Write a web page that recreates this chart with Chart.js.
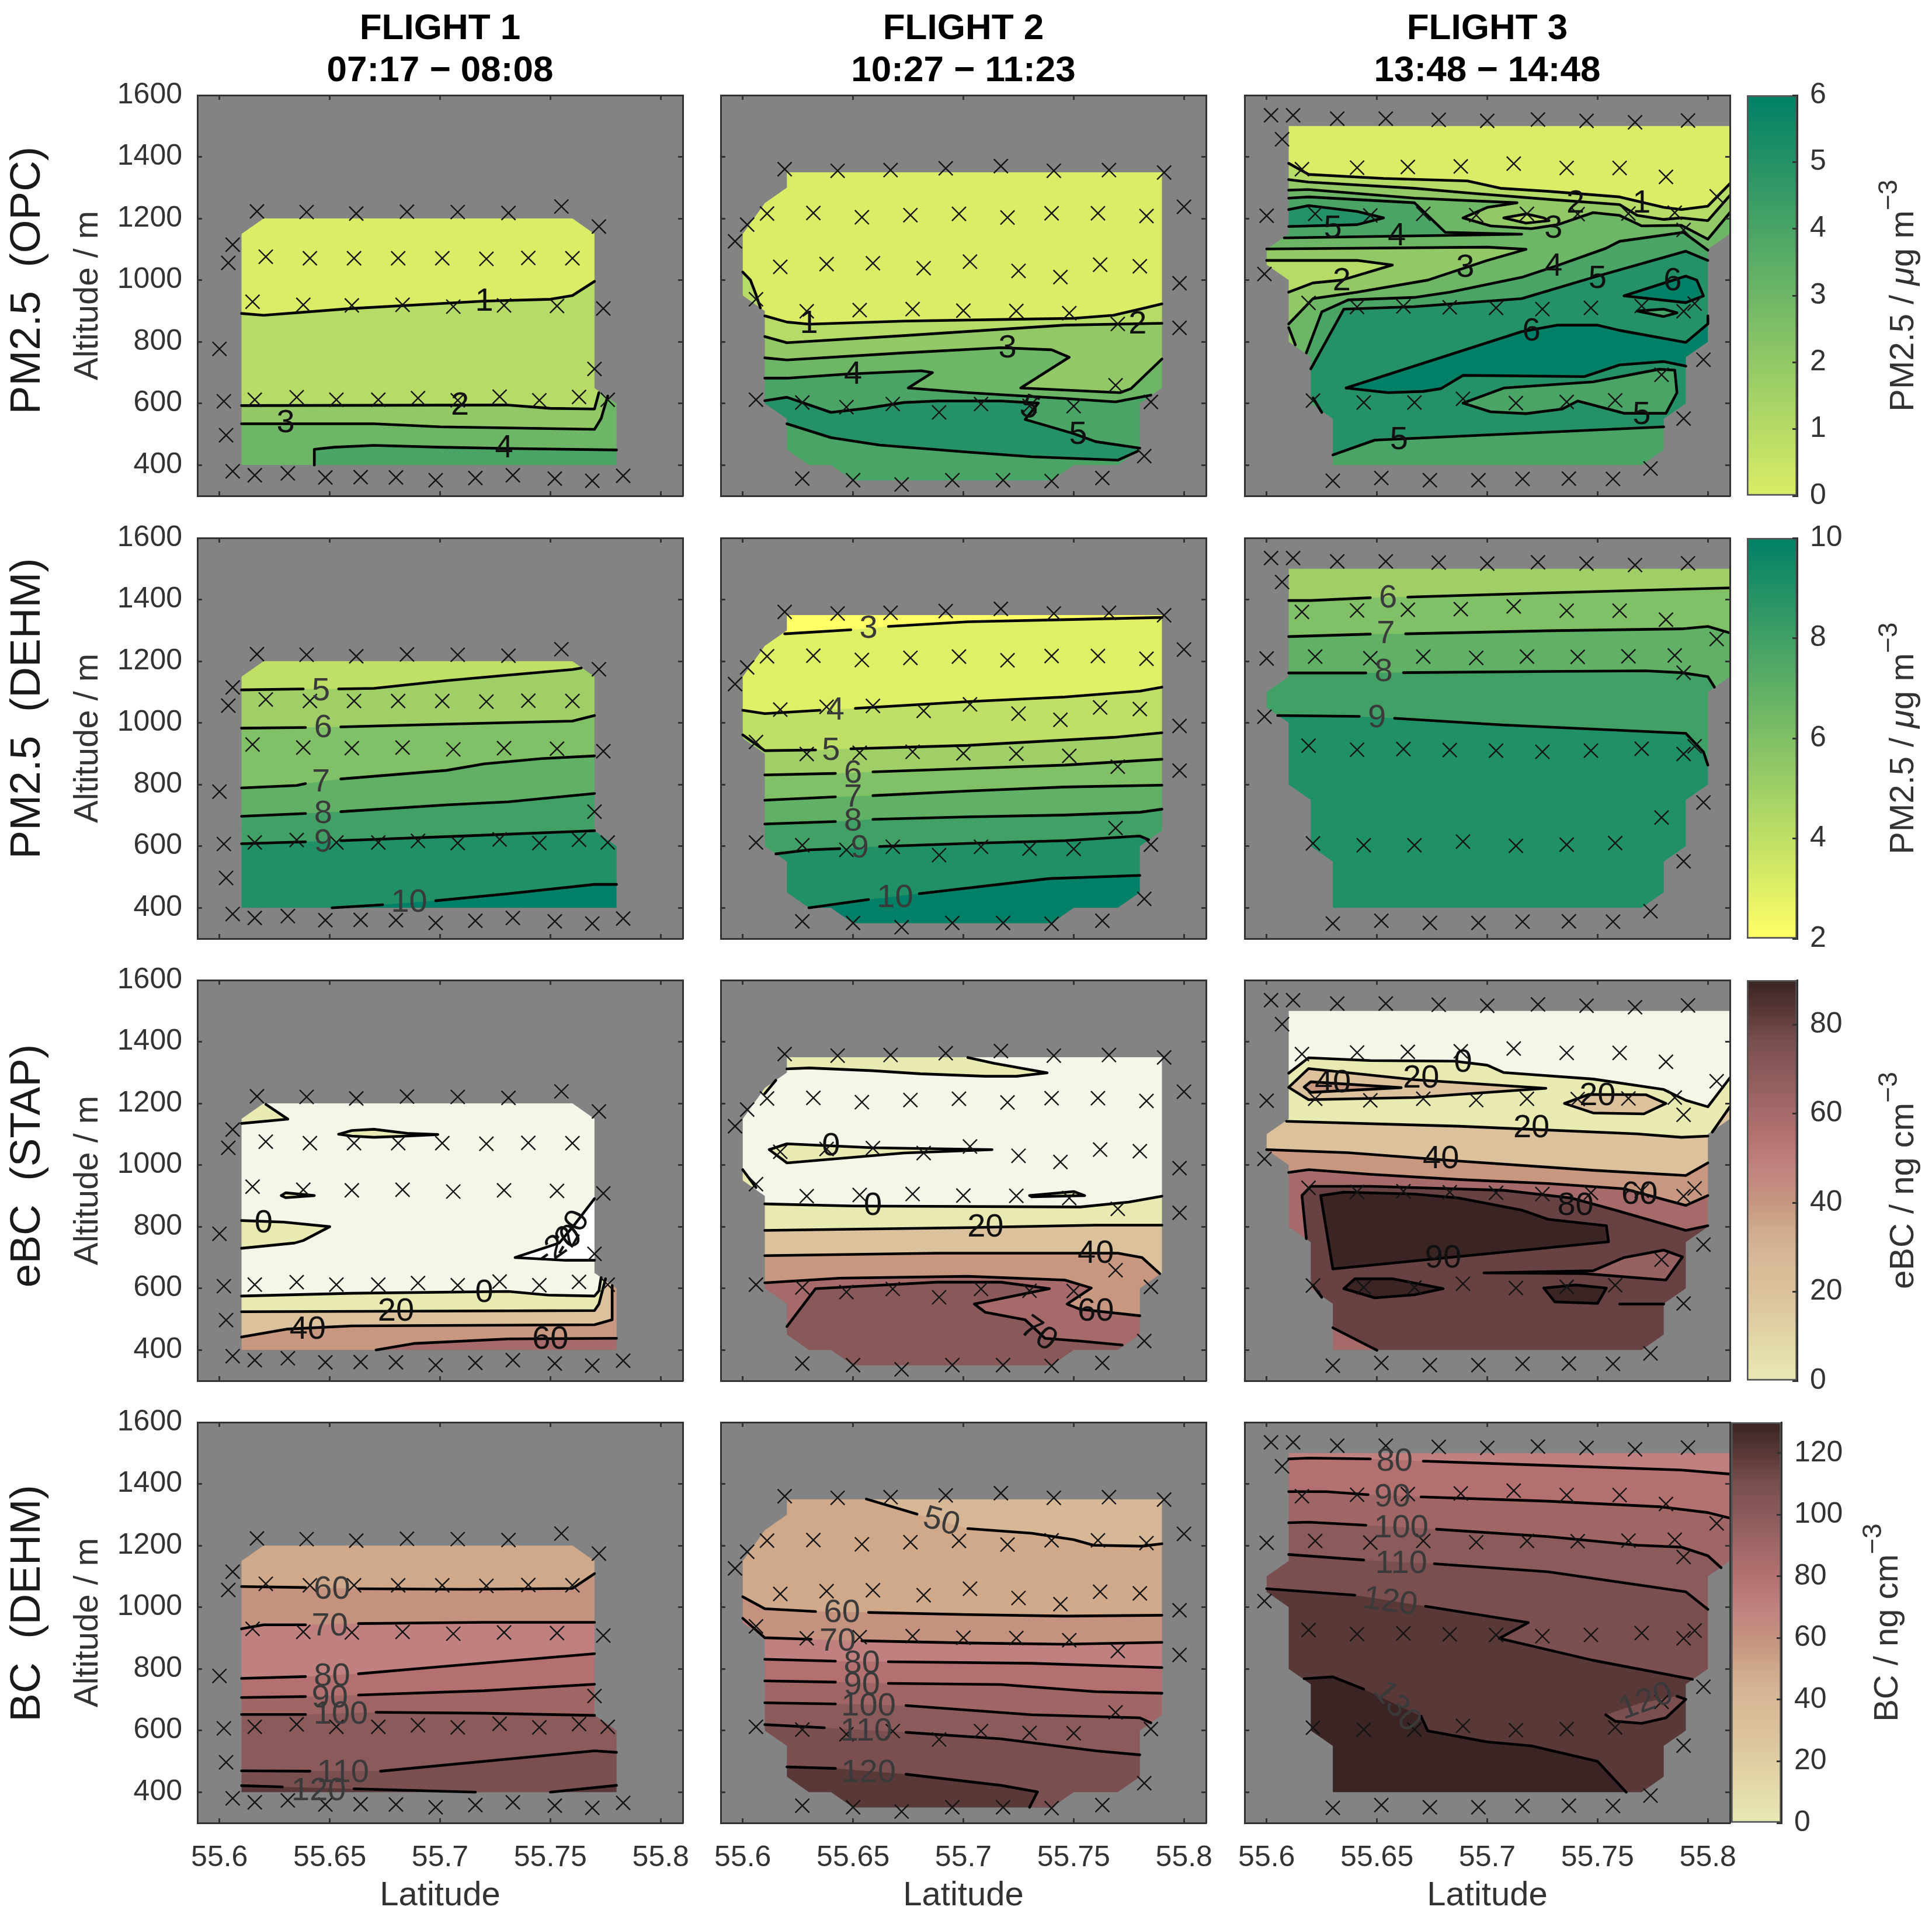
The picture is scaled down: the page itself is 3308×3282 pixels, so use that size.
<!DOCTYPE html>
<html>
<head>
<meta charset="utf-8">
<title>Flights</title>
<script src="https://cdn.jsdelivr.net/npm/chart.js@4/dist/chart.umd.min.js"></script>
<style>
html,body{margin:0;padding:0;background:#fff;}
#page{position:relative;width:3308px;height:3282px;overflow:hidden;}
canvas{position:absolute;}
</style>
</head>
<body>
<div id="page"></div>
<script>
// ==================== AXES ====================
const latTicks = [55.6, 55.65, 55.7, 55.75, 55.8];
const altTicks = [400, 600, 800, 1000, 1200, 1400, 1600];
const latRange = [55.59, 55.81];
const altRange = [300, 1600];
const flightTitles = [["FLIGHT 1", "07:17 − 08:08"], ["FLIGHT 2", "10:27 − 11:23"], ["FLIGHT 3", "13:48 − 14:48"]];
const rowTitles = ["PM2.5  (OPC)", "PM2.5  (DEHM)", "eBC  (STAP)", "BC  (DEHM)"];

// ==================== COLOURS ====================
const summerStops = [[0, "#ffff66"], [1, "#008066"]];
const pinkStops = [[-0.22, "#ffffff"], [-0.11, "#f5f5e8"], [0, "#e9e9b2"], [0.22, "#dbc29c"], [0.31, "#d7b896"], [0.385, "#cfa98a"], [0.45, "#c6957f"], [0.54, "#c08080"], [0.615, "#b47070"], [0.68, "#a36868"], [0.77, "#8b5a5a"], [0.85, "#7a4e4e"], [0.91, "#5e3b3b"], [1, "#3a2424"]];
const rowStops = [summerStops, summerStops, pinkStops, pinkStops];
const colorRanges = [[-1, 6], [2, 10], [0, 90], [0, 130]];
const barRanges = [[0, 6], [2, 10], [0, 90], [0, 130]];
const barTicks = [[0, 1, 2, 3, 4, 5, 6], [2, 4, 6, 8, 10], [0, 20, 40, 60, 80], [0, 20, 40, 60, 80, 100, 120]];
const baseLevels = [[0, 0, 0], [4, 2, 5], [-10, -10, -10], [50, 40, 70]];
const labelColors = ["#111111", "#3a3a3a", "#111111", "#3a3a3a"];

// ==================== SAMPLING POINTS ====================
const crossesF1 = [[55.617,1223],[55.6395,1221],[55.662,1216],[55.685,1222],[55.708,1221],[55.731,1218],[55.755,1239],[55.772,1174],
[55.606,1115],[55.604,1056],[55.621,1076],[55.641,1071],[55.661,1071],[55.681,1071],[55.701,1071],[55.721,1069],[55.74,1072],[55.76,1071],
[55.615,930],[55.638,920],[55.66,918],[55.683,920],[55.706,914],[55.729,918],[55.753,916],[55.774,908],[55.6,777],[55.77,712],
[55.602,607],[55.616,612],[55.635,620],[55.653,612],[55.672,612],[55.69,617],[55.708,610],[55.727,622],[55.745,610],[55.763,621],[55.776,612],[55.603,497],
[55.606,380],[55.616,367],[55.631,373],[55.648,360],[55.664,361],[55.68,360],[55.698,351],[55.716,358],[55.733,367],[55.752,356],[55.769,349],[55.783,365]];
const crossesF2 = [[55.619,1360],[55.643,1355],[55.667,1357],[55.692,1363],[55.717,1370],[55.741,1355],[55.766,1357],[55.791,1349],
[55.602,1180],[55.611,1216],[55.632,1218],[55.654,1204],[55.676,1211],[55.698,1215],[55.72,1203],[55.74,1217],[55.761,1217],[55.783,1208],[55.8,1238],[55.5965,1126],
[55.617,1043],[55.638,1052],[55.659,1055],[55.682,1039],[55.703,1060],[55.725,1030],[55.744,1010],[55.762,1050],[55.78,1045],[55.798,990],
[55.606,938],[55.629,899],[55.653,903],[55.677,906],[55.7,901],[55.724,900],[55.748,893],[55.77,858],[55.798,845],[55.769,659],
[55.606,612],[55.627,603],[55.647,588],[55.668,598],[55.689,571],[55.708,598],[55.73,592],[55.75,591],[55.785,605],[55.782,429],
[55.627,356],[55.65,351],[55.672,337],[55.695,351],[55.718,351],[55.74,348],[55.763,358]];
const crossesF3 = [[55.602,1535],[55.612,1535],[55.632,1524],[55.654,1524],[55.678,1520],[55.7,1517],[55.723,1521],[55.745,1517],[55.767,1512],[55.791,1518],[55.607,1457],
[55.616,1360],[55.641,1365],[55.664,1367],[55.688,1369],[55.712,1378],[55.736,1364],[55.76,1364],[55.781,1335],[55.804,1272],
[55.6,1209],[55.622,1215],[55.647,1210],[55.671,1215],[55.695,1211],[55.718,1215],[55.741,1214],[55.764,1216],[55.785,1219],[55.789,1163],[55.599,1020],
[55.619,926],[55.641,913],[55.662,915],[55.683,912],[55.704,910],[55.725,906],[55.747,910],[55.77,916],[55.789,899],[55.794,924],[55.798,742],[55.779,693],
[55.621,609],[55.644,603],[55.667,603],[55.689,615],[55.713,601],[55.736,605],[55.758,610],[55.789,551],
[55.774,389],[55.63,349],[55.652,358],[55.674,351],[55.696,351],[55.716,355],[55.737,356],[55.757,355]];

// ==================== GRIDDED AREA OF EACH FLIGHT ====================
const outlineF1 = [[55.61,400],[55.61,1150],[55.62,1200],[55.76,1200],[55.77,1150],[55.77,650],[55.78,600],[55.78,400]];
const outlineF2 = [[55.62,1350],[55.62,1300],[55.61,1250],[55.6,1150],[55.6,950],[55.61,900],[55.61,650],[55.61,600],[55.62,550],[55.62,450],[55.63,400],[55.64,400],[55.65,350],[55.74,350],[55.75,400],[55.77,400],[55.78,450],[55.78,600],[55.79,650],[55.79,1350]];
const outlineF3 = [[55.61,1500],[55.81,1500],[55.81,1150],[55.8,1100],[55.8,800],[55.79,750],[55.79,600],[55.78,550],[55.78,450],[55.77,400],[55.63,400],[55.63,550],[55.62,600],[55.62,750],[55.61,800],[55.61,1000],[55.6,1050],[55.6,1100],[55.61,1150]];

// ==================== CONTOURS ====================
// mode: below = fill under the line, loop = closed, poly = fill with extra points, line = only the line. null = gap for a label
const opcF1 = [
{lv:1,mode:"below",pts:[[55.61,892],[55.62,886],[55.66,908],[55.7,924],[55.72,932],[55.75,938],[55.76,950],[55.77,996]]},
{lv:2,mode:"below",pts:[[55.61,593],[55.73,595],[55.75,584],[55.77,582],[55.772,635]]},
{lv:3,mode:"below",pts:[[55.61,534],[55.67,534],[55.7,524],[55.77,516],[55.773,551],[55.776,624]]},
{lv:4,mode:"below",pts:[[55.643,400],[55.643,451],[55.652,458],[55.67,464],[55.7,458],[55.73,454],[55.78,449]]}];
const opcF2 = [
{lv:1,mode:"poly",pts:[[55.6,1026],[55.6035,1000],[55.606,953],[55.608,910]],extra:[[55.59,910],[55.59,1026]]},
{lv:1,mode:"below",pts:[[55.61,884],[55.62,864],[55.63,857],[55.673,867],[55.731,874],[55.75,876],[55.768,886],[55.78,906],[55.79,923]]},
{lv:2,mode:"below",pts:[[55.61,817],[55.62,797],[55.673,820],[55.746,854],[55.79,860]]},
{lv:3,mode:"below",pts:[[55.61,748],[55.62,741],[55.673,764],[55.717,781],[55.74,774],[55.748,750],[55.726,650],[55.771,635],[55.776,648],[55.79,744]]},
{lv:4,mode:"below",pts:[[55.61,682],[55.62,682],[55.647,695],[55.681,706],[55.686,700],[55.675,650],[55.702,635],[55.746,616],[55.769,605],[55.785,627]]},
{lv:5,mode:"poly",pts:[[55.61,609],[55.62,620],[55.64,571],[55.656,584],[55.673,603],[55.688,608],[55.717,608],[55.734,601],[55.728,548],[55.75,502],[55.76,476],[55.78,455]],extra:[[55.779,445],[55.77,416],[55.731,427],[55.702,442],[55.662,465],[55.64,489],[55.62,534],[55.59,534],[55.59,609]]},
{mode:"line",pts:[[55.62,534],[55.64,489],[55.662,465],[55.702,442],[55.731,427],[55.77,416],[55.779,445]]}];
const opcF3 = [
{lv:1,mode:"below",pts:[[55.61,1379],[55.619,1343],[55.653,1330],[55.691,1322],[55.706,1298],[55.728,1288],[55.76,1270],[55.78,1236],[55.788,1229],[55.8,1240],[55.81,1313]]},
{lv:2,mode:"below",pts:[[55.61,1326],[55.619,1318],[55.667,1298],[55.691,1283],[55.728,1262],[55.76,1245],[55.768,1210],[55.78,1197],[55.788,1202],[55.8,1193],[55.81,1275]]},
{lv:3,mode:"below",pts:[[55.61,1292],[55.619,1294],[55.667,1266],[55.7135,1251],[55.7,1236],[55.689,1202],[55.7015,1176],[55.72,1167],[55.732,1180],[55.748,1219],[55.76,1210],[55.77,1176],[55.788,1178],[55.8,1133],[55.81,1219]]},
{lv:4,mode:"poly",pts:[[55.61,1266],[55.619,1270],[55.667,1251],[55.681,1155],[55.7156,1149],[55.608,1137]],extra:[[55.59,1137],[55.59,1266]]},
{lv:5,mode:"poly",pts:[[55.61,1229],[55.619,1242],[55.641,1223],[55.653,1202],[55.641,1180],[55.61,1174]],extra:[[55.59,1174],[55.59,1229]]},
{lv:1,mode:"loop",pts:[[55.7075,1202],[55.7176,1215],[55.7256,1202],[55.728,1193],[55.7176,1185]]},
{lv:2,mode:"poly",pts:[[55.6,1101],[55.7,1107],[55.7176,1100],[55.7,1064],[55.673,1000],[55.641,961],[55.621,940],[55.61,858]],extra:[[55.59,858],[55.59,1101]]},
{lv:1,mode:"poly",pts:[[55.6,1064],[55.641,1064],[55.657,1049],[55.634,1000],[55.621,991],[55.61,961]],extra:[[55.59,961],[55.59,1064]]},
{lv:2,mode:"poly",pts:[[55.61,846],[55.613,790]],extra:[[55.59,790],[55.59,846]]},
{lv:4,mode:"below",pts:[[55.618,764],[55.625,897],[55.637,936],[55.667,944],[55.683,961],[55.7156,1009],[55.7316,1047],[55.7537,1103],[55.76,1126],[55.789,1155],[55.8,1097]]},
{lv:5,mode:"below",pts:[[55.62,712],[55.635,906],[55.667,914],[55.7156,940],[55.748,1009],[55.79,1094],[55.8,1064]]},
{lv:6,mode:"loop",pts:[[55.762,949],[55.79,1013],[55.795,1000],[55.798,949],[55.79,927]]},
{lv:4,mode:"loop",pts:[[55.768,900],[55.78,906],[55.786,894],[55.78,882]]},
{lv:6,mode:"poly",pts:[[55.636,650],[55.7156,833],[55.7316,854],[55.75,854],[55.76,837],[55.79,798],[55.8,858],[55.8,884]],extra:[[55.81,884],[55.81,721],[55.79,721],[55.78,736],[55.76,725],[55.744,687],[55.689,691],[55.679,648],[55.671,639],[55.655,635]]},
{mode:"line",pts:[[55.636,650],[55.655,635],[55.671,639],[55.679,648],[55.689,691],[55.744,687],[55.76,725],[55.78,736],[55.79,721]]},
{lv:4,mode:"loop",pts:[[55.689,601],[55.7075,650],[55.748,670],[55.778,711],[55.785,708],[55.786,635],[55.781,568],[55.762,568],[55.741,608],[55.734,582],[55.7176,567],[55.7015,573]]},
{lv:4,mode:"below",pts:[[55.63,433],[55.649,481],[55.78,524]]},
{lv:4,mode:"poly",pts:[[55.621,618],[55.625,571]],extra:[[55.59,571],[55.59,618]]}];

const dehmF1 = [
{lv:5,mode:"below",pts:[[55.61,1107],[55.638,1110],null,[55.654,1110],[55.67,1112],[55.703,1137],[55.731,1155],[55.76,1173],[55.764,1178]]},
{lv:6,mode:"below",pts:[[55.61,983],[55.639,985],null,[55.655,987],[55.703,996],[55.76,1006],[55.77,1024]]},
{lv:7,mode:"below",pts:[[55.61,789],[55.635,797],[55.639,803],null,[55.655,818],[55.703,846],[55.72,867],[55.746,884],[55.77,893]]},
{lv:8,mode:"below",pts:[[55.61,697],[55.639,706],null,[55.655,712],[55.703,734],[55.731,744],[55.77,771]]},
{lv:9,mode:"below",pts:[[55.61,608],[55.639,614],null,[55.655,618],[55.703,631],[55.77,650]]},
{lv:10,mode:"below",pts:[[55.651,400],[55.674,410],null,[55.698,423],[55.731,446],[55.77,476],[55.78,476]]}];
const dehmF2 = [
{lv:3,mode:"below",pts:[[55.619,1289],[55.649,1302],null,[55.666,1313],[55.702,1328],[55.746,1335],[55.79,1342]]},
{lv:4,mode:"below",pts:[[55.6,1041],[55.61,1030],[55.635,1041],null,[55.651,1047],[55.702,1069],[55.746,1084],[55.78,1103],[55.79,1116]]},
{lv:5,mode:"below",pts:[[55.6,961],[55.61,910],[55.633,912],null,[55.649,916],[55.702,927],[55.768,953],[55.79,968]]},
{lv:6,mode:"below",pts:[[55.61,831],[55.642,836],null,[55.659,841],[55.702,852],[55.746,863],[55.79,882]]},
{lv:7,mode:"below",pts:[[55.61,749],[55.642,760],null,[55.659,764],[55.702,779],[55.746,792],[55.79,798]]},
{lv:8,mode:"below",pts:[[55.61,672],[55.642,680],null,[55.659,687],[55.702,695],[55.746,701],[55.78,710],[55.79,720]]},
{lv:9,mode:"below",pts:[[55.615,575],[55.63,588],[55.644,592],null,[55.662,599],[55.702,609],[55.746,618],[55.78,633],[55.784,621]]},
{lv:10,mode:"below",pts:[[55.63,400],[55.657,427],null,[55.68,446],[55.739,495],[55.78,505]]}];
const dehmF3 = [
{lv:6,mode:"below",pts:[[55.61,1397],[55.62,1397],[55.647,1406],null,[55.664,1408],[55.728,1422],[55.81,1438]]},
{lv:7,mode:"below",pts:[[55.61,1280],[55.647,1288],null,[55.663,1289],[55.728,1299],[55.788,1305],[55.8,1313],[55.81,1292]]},
{lv:8,mode:"below",pts:[[55.61,1162],[55.645,1162],null,[55.662,1163],[55.728,1167],[55.772,1169],[55.788,1163],[55.8,1150],[55.803,1116]]},
{lv:9,mode:"below",pts:[[55.605,1024],[55.642,1021],null,[55.658,1015],[55.7075,993],[55.79,966],[55.798,906],[55.8,863]]}];

const stapF1 = [
{lv:0,mode:"poly",pts:[[55.621,1197],[55.631,1149],[55.61,1135]],extra:[[55.59,1135],[55.59,1197]]},
{lv:0,mode:"loop",pts:[[55.654,1100],[55.66,1112],[55.67,1116],[55.685,1103],[55.699,1099],[55.685,1094],[55.67,1090],[55.66,1094]]},
{lv:0,mode:"loop",pts:[[55.628,901],[55.63,910],[55.643,901],[55.63,894]]},
{lv:0,mode:"poly",pts:[[55.61,820],[55.629,815],[55.65,800],[55.638,755],[55.634,747],[55.61,730]],extra:[[55.59,730],[55.59,820]]},
{lv:-20,mode:"poly",pts:[[55.77,891],[55.761,807],[55.754,747],[55.734,700],[55.757,691],[55.77,691]],extra:[[55.78,691],[55.78,891]]},
{lv:0,mode:"below",pts:[[55.61,575],[55.66,584],[55.731,590],[55.749,578],[55.77,575],[55.772,592],[55.773,635]]},
{lv:20,mode:"below",pts:[[55.61,524],[55.77,528],[55.772,549],[55.775,631]]},
{lv:40,mode:"below",pts:[[55.61,442],[55.631,468],[55.66,478],[55.77,482],[55.778,498],[55.778,609]]},
{lv:60,mode:"below",pts:[[55.671,400],[55.688,421],[55.731,436],[55.78,438]]}];
const stapF2 = [
{lv:0,mode:"poly",pts:[[55.62,1312],[55.63,1315],[55.659,1306],[55.6805,1296],[55.71,1288],[55.724,1288],[55.738,1299],[55.714,1330],[55.702,1349]],extra:[[55.702,1360],[55.59,1360],[55.59,1312]]},
{lv:0,mode:"poly",pts:[[55.615,1275],[55.61,1232]],extra:[[55.59,1232],[55.59,1275]]},
{lv:0,mode:"loop",pts:[[55.612,1050],[55.62,1069],[55.659,1056],[55.713,1050],[55.673,1039],[55.62,1007]]},
{lv:0,mode:"poly",pts:[[55.6,985],[55.606,927]],extra:[[55.59,927],[55.59,985]]},
{lv:0,mode:"loop",pts:[[55.73,901],[55.75,914],[55.755,901],[55.731,897]]},
{lv:0,mode:"below",pts:[[55.61,874],[55.65,867],[55.753,864],[55.775,880],[55.79,899]]},
{lv:20,mode:"below",pts:[[55.61,788],[55.702,797],[55.76,805],[55.79,805]]},
{lv:40,mode:"below",pts:[[55.61,706],[55.688,714],[55.77,714],[55.781,700],[55.789,648]]},
{lv:60,mode:"below",pts:[[55.61,618],[55.644,633],[55.702,639],[55.746,627],[55.758,601],[55.747,549],[55.753,532],[55.78,511]]},
{lv:70,mode:"below",pts:[[55.62,476],[55.633,599],[55.659,609],[55.688,620],[55.717,620],[55.739,599],[55.705,549],[55.71,522],[55.728,498],[55.737,438],[55.753,429],[55.772,416]]}];
const stapF3 = [
{lv:0,mode:"below",pts:[[55.61,1298],[55.619,1348],[55.647,1339],[55.685,1337],[55.7,1324],[55.7075,1300],[55.748,1279],[55.78,1245],[55.79,1210],[55.8,1189],[55.81,1283]]},
{lv:20,mode:"loop",pts:[[55.61,1252],[55.619,1313],[55.667,1277],[55.7266,1249],[55.667,1219],[55.619,1212]]},
{lv:40,mode:"loop",pts:[[55.617,1253],[55.62,1270],[55.661,1251],[55.62,1236]]},
{lv:20,mode:"loop",pts:[[55.735,1200],[55.746,1229],[55.772,1228],[55.781,1200],[55.771,1166],[55.748,1169]]},
{lv:20,mode:"below",pts:[[55.609,1142],[55.687,1126],[55.768,1101],[55.788,1090],[55.8,1094]]},
{lv:20,mode:"poly",pts:[[55.802,1107],[55.81,1189]],extra:[[55.81,1107]]},
{lv:40,mode:"below",pts:[[55.6,1050],[55.637,1040],[55.687,1013],[55.748,983],[55.79,966],[55.8,1007]]},
{lv:60,mode:"below",pts:[[55.61,976],[55.619,985],[55.647,970],[55.687,953],[55.7276,940],[55.762,923],[55.79,869],[55.8,901]]},
{lv:80,mode:"below",pts:[[55.618,761],[55.616,901],[55.62,931],[55.647,931],[55.7075,918],[55.738,893],[55.758,854],[55.79,788],[55.8,803]]},
{lv:60,mode:"poly",pts:[[55.621,609],[55.625,571]],extra:[[55.59,571],[55.59,609]]},
{lv:60,mode:"poly",pts:[[55.63,472],[55.65,399]],extra:[[55.59,399],[55.59,472]]},
{lv:90,mode:"loop",pts:[[55.6245,901],[55.635,912],[55.667,906],[55.687,893],[55.7156,854],[55.7276,824],[55.754,803],[55.755,751],[55.63,663]]},
{lv:90,mode:"loop",pts:[[55.635,599],[55.64,631],[55.657,631],[55.68,599],[55.667,579],[55.649,569]]},
{lv:90,mode:"loop",pts:[[55.7256,601],[55.74,611],[55.754,601],[55.75,551],[55.7306,556]]},
{lv:65,mode:"loop",pts:[[55.6985,650],[55.748,657],[55.762,700],[55.78,724],[55.7885,702],[55.781,627],[55.7437,648]]},
{mode:"line",pts:[[55.76,549],[55.78,549]]}];

const bcF1 = [
{lv:60,mode:"below",pts:[[55.61,1067],[55.639,1064],null,[55.663,1060],[55.712,1058],[55.76,1061],[55.77,1109]]},
{lv:70,mode:"below",pts:[[55.61,930],[55.62,943],[55.639,943],null,[55.663,947],[55.72,951],[55.77,951]]},
{lv:80,mode:"below",pts:[[55.61,769],[55.639,775],null,[55.663,784],[55.7,807],[55.77,849]]},
{lv:90,mode:"below",pts:[[55.61,707],[55.639,710],null,[55.663,715],[55.72,729],[55.77,750]]},
{lv:100,mode:"below",pts:[[55.61,652],[55.639,652],null,[55.671,659],[55.72,656],[55.77,649]]},
{lv:110,mode:"below",pts:[[55.61,469],[55.641,468],null,[55.673,468],[55.77,534],[55.78,529]]},
{lv:120,mode:"below",pts:[[55.61,421],[55.6285,417],null,[55.661,411],[55.716,400]]},
{lv:120,mode:"below",pts:[[55.75,400],[55.78,422]]}];
const bcF2 = [
{lv:50,mode:"below",pts:[[55.656,1351],[55.679,1302],null,[55.702,1255],[55.731,1240],[55.75,1219],[55.759,1201],[55.781,1198],[55.79,1206]]},
{lv:60,mode:"below",pts:[[55.6,1034],[55.61,995],[55.633,986],null,[55.657,983],[55.702,976],[55.746,971],[55.79,974]]},
{lv:70,mode:"below",pts:[[55.6,964],[55.61,901],[55.631,896],null,[55.654,891],[55.702,884],[55.746,880],[55.79,886]]},
{lv:80,mode:"below",pts:[[55.61,831],[55.642,825],null,[55.666,823],[55.731,818],[55.79,804]]},
{lv:90,mode:"below",pts:[[55.61,761],[55.642,757],null,[55.666,753],[55.717,749],[55.76,726],[55.79,721]]},
{lv:100,mode:"below",pts:[[55.61,690],[55.642,686],null,[55.674,681],[55.731,651],[55.78,641],[55.785,625]]},
{lv:110,mode:"below",pts:[[55.61,619],[55.637,609],null,[55.674,594],[55.717,573],[55.76,534],[55.78,521]]},
{lv:120,mode:"below",pts:[[55.62,482],[55.642,477],null,[55.674,458],[55.717,422],[55.7336,401],[55.73,351]]}];
const bcF3 = [
{lv:80,mode:"below",pts:[[55.61,1481],[55.619,1484],[55.647,1481],null,[55.671,1474],[55.7276,1460],[55.788,1445],[55.81,1432]]},
{lv:90,mode:"below",pts:[[55.61,1375],[55.627,1375],[55.646,1365],null,[55.67,1358],[55.7276,1344],[55.778,1326],[55.8,1307],[55.81,1289]]},
{lv:100,mode:"below",pts:[[55.61,1274],[55.619,1276],[55.645,1266],null,[55.677,1253],[55.7276,1229],[55.768,1201],[55.788,1195],[55.8,1167],[55.806,1128]]},
{lv:110,mode:"below",pts:[[55.61,1171],[55.644,1153],null,[55.676,1141],[55.7276,1115],[55.79,1050],[55.8,993]]},
{lv:120,mode:"below",pts:[[55.6,1060],[55.64,1039],null,[55.672,1003],[55.7186,950],[55.7055,899],[55.7477,828],[55.793,766]]},
{lv:110,mode:"poly",pts:[[55.7537,651],[55.758,630],[55.77,623],[55.781,641],[55.79,701],[55.786,711]],extra:[[55.77,690]]},
{lv:130,mode:"below",pts:[[55.617,768],[55.63,774],[55.644,734],null,[55.67,646],[55.673,599],[55.7,563],[55.72,550],[55.75,500],[55.763,400]]}];
const contourLines = [[opcF1, opcF2, opcF3], [dehmF1, dehmF2, dehmF3], [stapF1, stapF2, stapF3], [bcF1, bcF2, bcF3]];

// ==================== CONTOUR LABELS: text, lat, alt, rotation ====================
const contourLabels = [
[[["1",55.72,930,0],["2",55.709,593,0],["3",55.63,535,0],["4",55.729,454,0]],
 [["1",55.63,858,0],["2",55.779,856,0],["3",55.72,778,0],["4",55.65,694,0],["5",55.752,498,0],["5",55.73,584,20]],
 [["1",55.77,1249,0],["2",55.74,1249,0],["3",55.73,1167,0],["5",55.63,1167,0],["4",55.659,1142,0],["3",55.69,1039,0],["2",55.634,996,0],["4",55.73,1043,0],["5",55.75,1004,0],["6",55.784,996,0],["6",55.72,833,0],["5",55.77,562,0],["5",55.66,481,0]]],
[[["5",55.646,1103,0],["6",55.647,983,0],["7",55.646,807,0],["8",55.647,704,0],["9",55.647,612,0],["10",55.686,416,0]],
 [["3",55.657,1305,0],["4",55.642,1039,0],["5",55.64,910,0],["6",55.65,835,0],["7",55.65,757,0],["8",55.65,680,0],["9",55.653,592,0],["10",55.669,432,0]],
 [["6",55.655,1404,0],["7",55.654,1288,0],["8",55.653,1165,0],["9",55.65,1015,0]]],
[[["0",55.62,811,0],["-20",55.754,738,-35],["-20",55.759,777,-60],["0",55.72,586,0],["20",55.68,524,0],["40",55.64,466,0],["60",55.75,433,0]],
 [["0",55.64,1060,0],["0",55.659,867,0],["20",55.71,797,0],["40",55.76,712,0],["60",55.76,524,0],["70",55.734,451,35]],
 [["0",55.689,1331,0],["20",55.67,1281,0],["40",55.63,1266,0],["20",55.75,1223,0],["20",55.72,1120,0],["40",55.679,1019,0],["60",55.769,903,0],["80",55.74,867,0],["90",55.68,697,0]]],
[[["60",55.651,1057,0],["70",55.65,938,0],["80",55.651,774,0],["90",55.65,705,0],["100",55.655,651,0],["110",55.656,461,0],["120",55.645,403,0]],
 [["50",55.69,1276,15],["60",55.645,982,0],["70",55.643,889,0],["80",55.654,816,0],["90",55.654,747,0],["100",55.657,677,0],["110",55.656,596,0],["120",55.657,461,0]],
 [["80",55.658,1472,0],["90",55.657,1357,0],["100",55.661,1255,0],["110",55.661,1141,0],["120",55.656,1016,8],["130",55.659,677,50],["120",55.772,693,-20]]]];
const crosses = [crossesF1, crossesF2, crossesF3];
const outlines = [outlineF1, outlineF2, outlineF3];

// ==================== LAYOUT ====================
const colX = [338, 1234, 2131];
const rowY = [163, 921, 1678, 2435];
const plotW = 831, plotH = 686;
const barX = [2991, 2991, 2991, 2964];
const barW = 86;
const barTitleX = [3260, 3260, 3260, 3233];
const barTitleParts = [
    [["PM2.5 / ", 0], ["μ", 1], ["g m", 0], ["−3", 2]],
    [["PM2.5 / ", 0], ["μ", 1], ["g m", 0], ["−3", 2]],
    [["eBC / ng cm", 0], ["−3", 2]],
    [["BC / ng cm", 0], ["−3", 2]]];
const rowTitleY = [480, 1213, 1996, 2745];
const FONT = "'Liberation Sans', Arial, sans-serif";
const INK = "#333333";

// ==================== HELPERS ====================
function hexRgb(h){
    return [parseInt(h.slice(1,3),16), parseInt(h.slice(3,5),16), parseInt(h.slice(5,7),16)];
}

function colorAt(stops, t){
    if(t <= stops[0][0]) return stops[0][1];
    for(let i = 1; i < stops.length; i++){
        if(t <= stops[i][0]){
            const f = (t - stops[i-1][0]) / (stops[i][0] - stops[i-1][0]);
            const a = hexRgb(stops[i-1][1]), b = hexRgb(stops[i][1]);
            return "rgb(" + a.map((v,k) => Math.round(v + (b[k]-v)*f)).join(",") + ")";
        }
    }
    return stops[stops.length-1][1];
}

function levelColor(row, lv){
    const r = colorRanges[row];
    return colorAt(rowStops[row], (lv - r[0]) / (r[1] - r[0]));
}

function toXY(p){
    return p ? {x:p[0], y:p[1]} : {x:null, y:null};
}

function polyDataset(pts, color){
    return {data:pts.map(toXY), showLine:true, fill:"shape", backgroundColor:color, borderWidth:0, pointRadius:0};
}

function lineDataset(pts){
    return {data:pts.map(toXY), showLine:true, fill:false, borderColor:"#000000", borderWidth:4.6, pointRadius:0, borderCapStyle:"round", borderJoinStyle:"round"};
}

function signedArea(pts){
    let a = 0;
    pts.forEach((p,i) => { const q = pts[(i+1)%pts.length]; a += p[0]*q[1] - q[0]*p[1]; });
    return a;
}

// grey plot background with the gridded area cut out of it
function maskPoints(outline){
    const rect = [[latRange[0],altRange[0]],[latRange[0],altRange[1]],[latRange[1],altRange[1]],[latRange[1],altRange[0]]];
    const hole = outline.slice();
    if(signedArea(hole) * signedArea(rect) > 0) hole.reverse();
    return rect.concat([rect[0]], hole, [hole[0]]);
}

function buildDatasets(row, col){
    const painted = [];
    const rect = [[latRange[0],altRange[0]],[latRange[0],altRange[1]],[latRange[1],altRange[1]],[latRange[1],altRange[0]]];
    painted.push(polyDataset(rect, levelColor(row, baseLevels[row][col])));
    const strokes = [];
    contourLines[row][col].forEach(item => {
        const pts = item.pts.filter(p => p);
        if(item.mode === "below"){
            const first = pts[0], last = pts[pts.length-1];
            painted.push(polyDataset([[latRange[0],first[1]]].concat(pts, [[latRange[1],last[1]],[latRange[1],altRange[0]],[latRange[0],altRange[0]]]), levelColor(row,item.lv)));
            strokes.push(lineDataset(item.pts));
        }else if(item.mode === "loop"){
            painted.push(polyDataset(pts, levelColor(row,item.lv)));
            strokes.push(lineDataset(item.pts.concat([item.pts[0]])));
        }else if(item.mode === "poly"){
            painted.push(polyDataset(pts.concat(item.extra), levelColor(row,item.lv)));
            strokes.push(lineDataset(item.pts));
        }else{
            strokes.push(lineDataset(item.pts));
        }
    });
    painted.push(polyDataset(maskPoints(outlines[col]), "#838383"));
    const marks = {data:crosses[col].map(toXY), pointStyle:"crossRot", pointRadius:17, pointBorderColor:"#141414", pointBorderWidth:2.4, showLine:false};
    // chart.js paints the first dataset last
    return painted.concat(strokes, [marks]).reverse();
}

const labelPlugin = {
    id:"contourText",
    afterDraw(chart, args, opts){
        const ctx = chart.ctx;
        ctx.save();
        ctx.font = "56px " + FONT;
        ctx.fillStyle = opts.color;
        ctx.textAlign = "center";
        ctx.textBaseline = "middle";
        opts.items.forEach(it => {
            ctx.save();
            ctx.translate(chart.scales.x.getPixelForValue(it[1]), chart.scales.y.getPixelForValue(it[2]));
            ctx.rotate((it[3]||0) * Math.PI / 180);
            ctx.fillText(it[0], 0, 0);
            ctx.restore();
        });
        ctx.restore();
    }
};

// vertical text reading upwards, made of parts with own style
const sideTitlePlugin = {
    id:"sideTitle",
    afterDraw(chart, args, opts){
        if(!opts.parts) return;
        const ctx = chart.ctx;
        const size = opts.size;
        const fonts = [size + "px " + FONT, "italic " + size + "px " + FONT, (size*0.8) + "px " + FONT];
        let total = 0;
        opts.parts.forEach(p => { ctx.font = fonts[p[1]]; total += ctx.measureText(p[0]).width; });
        ctx.save();
        ctx.translate(opts.x, opts.y);
        ctx.rotate(-Math.PI/2);
        ctx.fillStyle = opts.color;
        ctx.textBaseline = "middle";
        ctx.textAlign = "left";
        let pos = -total/2;
        opts.parts.forEach(p => {
            ctx.font = fonts[p[1]];
            ctx.fillText(p[0], pos, p[1] === 2 ? -size*0.42 : 0);
            pos += ctx.measureText(p[0]).width;
        });
        ctx.restore();
    }
};

function addCanvas(x, y, w, h){
    const c = document.createElement("canvas");
    c.width = w; c.height = h;
    c.style.left = x + "px"; c.style.top = y + "px";
    c.style.width = w + "px"; c.style.height = h + "px";
    document.getElementById("page").appendChild(c);
    return c;
}

function tickAxis(position, range, ticks, size, extra){
    return Object.assign({
        type:"linear", position:position, min:range[0], max:range[1],
        afterBuildTicks(s){ s.ticks = ticks.map(v => ({value:v})); },
        afterFit(s){
            if(position === "top" || position === "bottom") s.height = size; else s.width = size;
            s.paddingLeft = s.paddingRight = s.paddingTop = s.paddingBottom = 0;
        },
        grid:{drawOnChartArea:false, drawTicks:true, tickLength:-8, tickWidth:3, tickColor:INK, z:1},
        border:{display:true, color:INK, width:3, z:1},
        ticks:{display:false}
    }, extra || {});
}

function makePanel(row, col){
    const left = col === 0 ? colX[0] : 60;
    const top = row === 0 ? rowY[0] : 40;
    const bottom = row === 3 ? 160 : 10;
    const right = 60;
    const canvas = addCanvas(colX[col]-left, rowY[row]-top, left+plotW+right, top+plotH+bottom);
    const tickFont = {family:FONT, size:50};
    const scales = {
        x: tickAxis("bottom", latRange, latTicks, bottom, {
            ticks:{display:row === 3, font:tickFont, color:INK, padding:38, maxRotation:0, autoSkip:false, callback:v => String(v)},
            title:{display:row === 3, text:"Latitude", font:{family:FONT, size:58}, color:INK, padding:{top:0, bottom:0}}
        }),
        y: tickAxis("left", altRange, altTicks, left, {
            ticks:{display:col === 0, font:tickFont, color:INK, padding:34, autoSkip:false, callback:v => String(v)},
            title:{display:col === 0, text:"Altitude / m", font:{family:FONT, size:58}, color:INK, padding:{top:116, bottom:0}}
        }),
        x2: tickAxis("top", latRange, latTicks, top, {
            title:{display:row === 0, text:flightTitles[col], font:{family:FONT, size:62, weight:"bold", lineHeight:1.16}, color:"#000000", padding:{top:14, bottom:0}}
        }),
        y2: tickAxis("right", altRange, altTicks, right)
    };
    scales.x2.axis = "x";
    scales.y2.axis = "y";
    new Chart(canvas, {
        type:"scatter",
        data:{datasets:buildDatasets(row, col)},
        options:{
            responsive:false, animation:false, events:[],
            elements:{line:{tension:0}},
            layout:{padding:0, autoPadding:false},
            scales:scales,
            plugins:{
                legend:{display:false}, tooltip:{enabled:false},
                contourText:{items:contourLabels[row][col], color:labelColors[row]},
                sideTitle: col === 0 ? {parts:[[rowTitles[row],0]], size:73, x:48, y:rowTitleY[row]-rowY[row]+top, color:"#1a1a1a"} : {parts:null}
            }
        },
        plugins:[labelPlugin, sideTitlePlugin]
    });
}

function makeColorbar(row){
    const pad = 34;
    const x = barX[row];
    const canvas = addCanvas(x, rowY[row]-pad, 3308-x, plotH+pad*2);
    const range = barRanges[row];
    const rightSpace = 3308 - x - barW;
    new Chart(canvas, {
        type:"bar",
        data:{labels:[""], datasets:[{
            data:[[range[0], range[1]]],
            barPercentage:1, categoryPercentage:1, borderWidth:3, borderColor:"#555555", borderSkipped:false,
            backgroundColor(c){
                const a = c.chart.chartArea;
                if(!a) return "#808080";
                const g = c.chart.ctx.createLinearGradient(0, a.bottom, 0, a.top);
                for(let i = 0; i <= 40; i++){
                    const v = range[0] + (range[1]-range[0])*i/40;
                    g.addColorStop(i/40, levelColor(row, v));
                }
                return g;
            }
        }]},
        options:{
            responsive:false, animation:false, events:[],
            layout:{padding:{top:pad, bottom:pad}, autoPadding:false},
            scales:{
                x:{display:false},
                y:tickAxis("right", range, barTicks[row], rightSpace, {
                    ticks:{display:true, font:{family:FONT, size:50}, color:INK, padding:30, autoSkip:false, callback:v => String(v)}
                })
            },
            plugins:{
                legend:{display:false}, tooltip:{enabled:false},
                sideTitle:{parts:barTitleParts[row], size:58, x:barTitleX[row]-x, y:pad+plotH/2, color:INK}
            }
        },
        plugins:[sideTitlePlugin]
    });
}

// ==================== BUILD ====================
rowY.forEach((_, row) => {
    colX.forEach((_, col) => makePanel(row, col));
    makeColorbar(row);
});
</script>
</body>
</html>
